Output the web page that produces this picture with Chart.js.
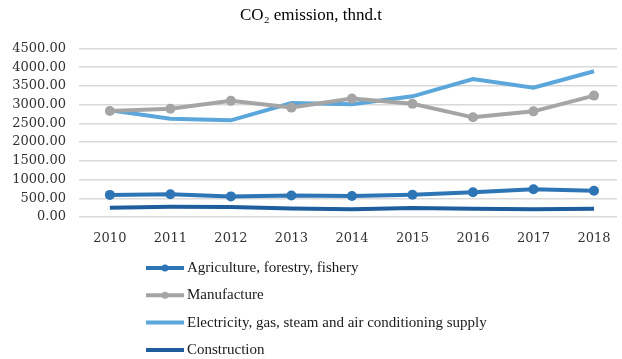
<!DOCTYPE html>
<html>
<head>
<meta charset="utf-8">
<script src="https://cdn.jsdelivr.net/npm/chart.js@4"></script>
<style>
  body { margin: 0; background: #fff; }
  #wrap { width: 622px; height: 359px; position: relative; }
</style>
</head>
<body>
<div id="wrap"><canvas id="co2Chart"></canvas></div>
<script>
const years = [2010, 2011, 2012, 2013, 2014, 2015, 2016, 2017, 2018];
const agriculture = [590, 605, 550, 575, 560, 595, 660, 740, 700];
const manufacture = [2830, 2890, 3100, 2920, 3160, 3020, 2660, 2820, 3240];
const electricity = [2850, 2620, 2580, 3040, 3010, 3220, 3680, 3450, 3890];
const construction = [250, 275, 270, 230, 210, 240, 220, 210, 220];

function toPoints(values) {
    return years.map((y, i) => ({ x: y, y: values[i] }));
}

// legend drawn as a vertical list under the plot
const listLegend = {
    id: 'listLegend',
    afterDraw(chart) {
        const ctx = chart.ctx;
        ctx.save();
        chart.data.datasets.forEach((ds, i) => {
            const y = 268 + i * 27.3;
            ctx.strokeStyle = ds.borderColor;
            ctx.lineWidth = 4;
            ctx.beginPath();
            ctx.moveTo(146, y);
            ctx.lineTo(184, y);
            ctx.stroke();
            if (ds.pointRadius > 0) {
                ctx.fillStyle = ds.borderColor;
                ctx.beginPath();
                ctx.arc(165, y, 3.5, 0, Math.PI * 2);
                ctx.fill();
            }
            ctx.fillStyle = '#1a1a1a';
            ctx.font = '15px "Liberation Serif"';
            ctx.textBaseline = 'middle';
            ctx.fillText(ds.label, 187, y);
        });
        ctx.restore();
    }
};

const ctx = document.getElementById('co2Chart').getContext('2d');
new Chart(ctx, {
    type: 'line',
    data: {
        datasets: [{
            label: 'Agriculture, forestry, fishery',
            data: toPoints(agriculture),
            borderColor: '#2E75B6',
            backgroundColor: '#2E75B6',
            borderWidth: 4,
            pointRadius: 5,
            pointBorderWidth: 0
        }, {
            label: 'Manufacture',
            data: toPoints(manufacture),
            borderColor: '#A5A5A5',
            backgroundColor: '#A5A5A5',
            borderWidth: 4,
            pointRadius: 5,
            pointBorderWidth: 0
        }, {
            label: 'Electricity, gas, steam and air conditioning supply',
            data: toPoints(electricity),
            borderColor: '#5BA7DB',
            backgroundColor: '#5BA7DB',
            borderWidth: 4,
            pointRadius: 0
        }, {
            label: 'Construction',
            data: toPoints(construction),
            borderColor: '#1F5E9E',
            backgroundColor: '#1F5E9E',
            borderWidth: 4,
            pointRadius: 0
        }]
    },
    options: {
        responsive: true,
        maintainAspectRatio: false,
        animation: false,
        layout: { padding: 0 },
        plugins: {
            legend: { display: false },
            tooltip: { enabled: false },
            title: {
                display: true,
                text: 'CO\u2082 emission, thnd.t',
                color: '#000',
                font: { family: '"Liberation Serif"', size: 17, weight: 'normal' },
                padding: { top: 5, bottom: 23 }
            }
        },
        scales: {
            x: {
                type: 'linear',
                min: 2009.49,
                max: 2018.38,
                afterBuildTicks: scale => { scale.ticks = years.map(v => ({ value: v })); },
                afterFit: scale => { scale.height = 142; },
                grid: { display: false },
                border: { display: false },
                ticks: {
                    color: '#333',
                    padding: 6,
                    maxRotation: 0,
                    font: { family: '"DejaVu Serif"', size: 13 },
                    callback: v => String(v)
                }
            },
            y: {
                min: 0,
                max: 4500,
                afterFit: scale => { scale.width = 79; },
                grid: { color: '#D9D9D9', lineWidth: 1.5, drawTicks: false },
                border: { display: false },
                ticks: {
                    stepSize: 500,
                    color: '#333',
                    padding: 13,
                    font: { family: '"DejaVu Serif"', size: 13 },
                    callback: v => v.toFixed(2)
                }
            }
        }
    },
    plugins: [listLegend]
});
</script>
</body>
</html>
